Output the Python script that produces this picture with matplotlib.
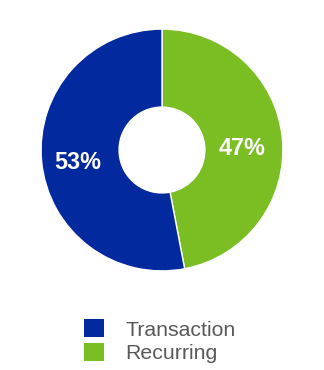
import matplotlib
matplotlib.use("Agg")
import matplotlib.pyplot as plt
from matplotlib.patches import Patch

categories = ["Recurring", "Transaction"]
values = [47, 53]
colors = ["#7BBE23", "#03299F"]
legend_order = ["Transaction", "Recurring"]

plt.rcParams['font.family'] = ['Liberation Sans', 'DejaVu Sans']

fig = plt.figure(figsize=(3.24, 3.70), dpi=100)
ax = fig.add_axes([29/324, 87/370, 266/324, 266/370])
wedges, _ = ax.pie(values, colors=colors, startangle=90, counterclock=False,
                   radius=1.0, wedgeprops=dict(width=0.645, edgecolor='white', linewidth=1.0))
ax.set_xlim(-1.1, 1.1)
ax.set_ylim(-1.1, 1.1)
ax.set_aspect('equal')
ax.axis('off')

label_pos = {"Transaction": (-0.70, -0.105), "Recurring": (0.665, 0.01)}
for cat, v in zip(categories, values):
    x, y = label_pos[cat]
    ax.text(x, y, f"{v}%", color='white', fontsize=16.8, fontweight='bold',
            ha='center', va='center')

handles = [Patch(facecolor=colors[categories.index(c)], edgecolor='none') for c in legend_order]
fig.legend(handles, legend_order, loc='upper left', bbox_to_anchor=(84/324, 1 - 319/370),
           frameon=False, fontsize=15.3, handlelength=0.96, handleheight=0.96,
           handletextpad=1.0, labelspacing=0.15, labelcolor='#595959',
           borderpad=0, borderaxespad=0)

fig.savefig("out.png", dpi=100)
